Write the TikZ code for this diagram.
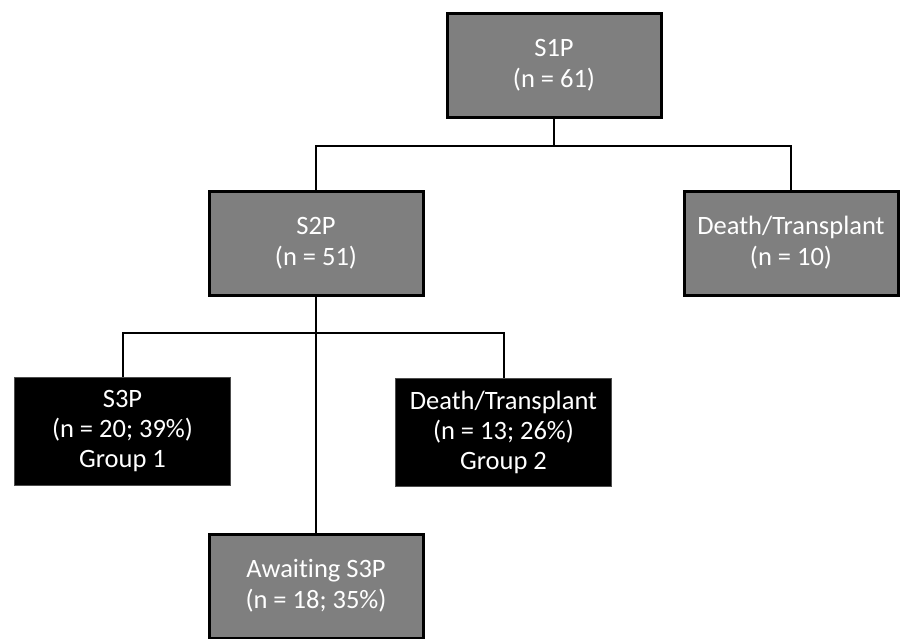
\documentclass[tikz,border=0pt]{standalone}
\usepackage{fontspec}
\setmainfont[Ligatures=NoCommon]{Carlito}
\definecolor{boxgray}{HTML}{7F7F7F}
\begin{document}
\begin{tikzpicture}[x=1pt,y=-1pt,
  graybox/.style={draw=black,line width=3pt,fill=boxgray,text=white,
    minimum width=214pt,minimum height=104pt,inner sep=0pt,align=center,
    font=\fontsize{26.5}{31}\selectfont},
  blackbox/.style={draw=black!70,line width=0.8pt,fill=black,text=white,
    minimum width=216pt,minimum height=108pt,inner sep=0pt,align=center,
    font=\fontsize{26.5}{30}\selectfont},
  conn/.style={draw=black,line width=2pt}]
\fill[white] (0,0) rectangle (900,638);
\clip (0,0) rectangle (900,638);
\node[graybox] (s1) at (554,65) {S1P\\(n = 61)};
\node[graybox] (s2) at (316,243) {S2P\\(n = 51)};
\node[graybox] (dt1) at (791,243) {Death/Transplant\\(n = 10)};
\node[blackbox] (s3) at (122.5,431.5) {S3P\\(n = 20; 39\%)\\Group 1};
\node[blackbox] (dt2) at (503.5,432) {Death/Transplant\\(n = 13; 26\%)\\Group 2};
\node[graybox] (aw) at (316,586) {Awaiting S3P\\(n = 18; 35\%)};
\coordinate (j1) at (554,146);
\coordinate (j2) at (316,333);
\draw[conn] (s1.south) -- (j1);
\draw[conn] (j1) -| (s2.north);
\draw[conn] (j1) -| (dt1.north);
\draw[conn] (s2.south) -- (aw.north);
\draw[conn] (j2) -| (s3.north);
\draw[conn] (j2) -| (dt2.north);
\end{tikzpicture}
\end{document}
